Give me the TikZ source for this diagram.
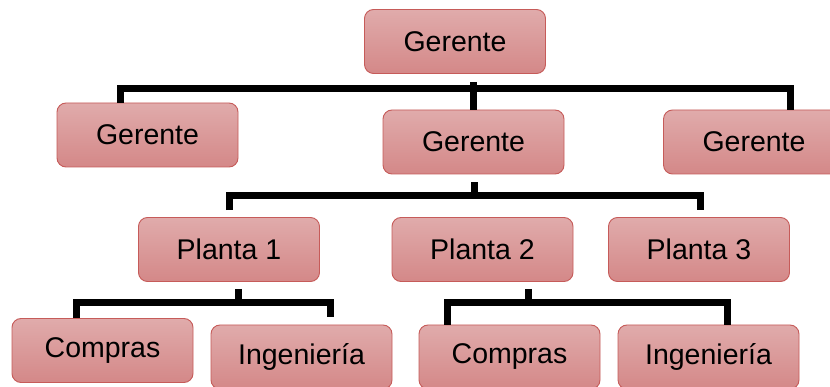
\documentclass[tikz,border=0pt]{standalone}
\usepackage{fontspec}
\setmainfont{Liberation Sans}
\usepackage{xcolor}
\definecolor{clBoxTop}{HTML}{E0ABAB}
\definecolor{clBoxBottom}{HTML}{D48888}
\definecolor{clBoxLine}{HTML}{C65B59}
\usepackage{tikz}
\usetikzlibrary{calc}
\tikzset{
  unit/.style={rectangle, rounded corners=9pt, draw=clBoxLine, line width=0.9pt,
               top color=clBoxTop, bottom color=clBoxBottom, text=black,
               minimum width=181pt, minimum height=64pt, inner sep=0pt,
               font=\fontsize{28.5}{34}\selectfont},
  bar/.style={line width=7pt, draw=black, line join=miter},
}

\begin{document}
\begin{tikzpicture}[x=1pt, y=-1pt]
  \fill[white] (0,0) rectangle (830,387);
  \clip (0,0) rectangle (830,387);
  % top level
  \node[unit] (ger0) at (455,41.5) {Gerente};
  \node[unit] (ger1) at (147.5,135) {Gerente};
  \node[unit] (ger2) at (473.5,142) {Gerente};
  \node[unit] (ger3) at (754,142) {Gerente};
  % plants
  \node[unit] (pl1) at (229,249.5) {Planta 1};
  \node[unit] (pl2) at (482.5,249.5) {Planta 2};
  \node[unit] (pl3) at (699,249.5) {Planta 3};
  % departments
  \node[unit] (com1) at (102.5,350.5) {Compras};
  \node[unit] (ing1) at (301.5,357) {Ingeniería};
  \node[unit] (com2) at (509.5,357) {Compras};
  \node[unit] (ing2) at (708.5,357) {Ingeniería};

  % bar under the top manager
  \coordinate (j1) at (473,89);
  \coordinate (j1l) at (120,89);
  \coordinate (j1r) at (790,89);
  \draw[bar, shorten <=8pt] (j1 |- ger0.south) -- (j1);
  \draw[bar] (j1l |- ger1.north) -- (j1l) -- (j1r) -- (j1r |- ger3.north);
  \draw[bar] (j1) -- (j1 |- ger2.north);

  % bar under the middle manager
  \coordinate (j2) at (474,196);
  \coordinate (j2l) at (229,196);
  \coordinate (j2r) at (700,196);
  \draw[bar, shorten <=8pt] (j2 |- ger2.south) -- (j2);
  \draw[bar, shorten <=7pt, shorten >=7pt] (j2l |- pl1.north) -- (j2l) -- (j2r) -- (j2r |- pl3.north);

  % bars under the plants
  \coordinate (j3) at (238,303);
  \coordinate (j3l) at (76,303);
  \coordinate (j3r) at (330,303);
  \draw[bar, shorten <=7pt] (j3 |- pl1.south) -- (j3);
  \draw[bar, shorten >=8pt] (j3l |- com1.north) -- (j3l) -- (j3r) -- (j3r |- ing1.north);

  \coordinate (j4) at (528,303);
  \coordinate (j4l) at (447,303);
  \coordinate (j4r) at (727,303);
  \draw[bar, shorten <=7pt] (j4 |- pl2.south) -- (j4);
  \draw[bar] (j4l |- com2.north) -- (j4l) -- (j4r) -- (j4r |- ing2.north);
\end{tikzpicture}
\end{document}
